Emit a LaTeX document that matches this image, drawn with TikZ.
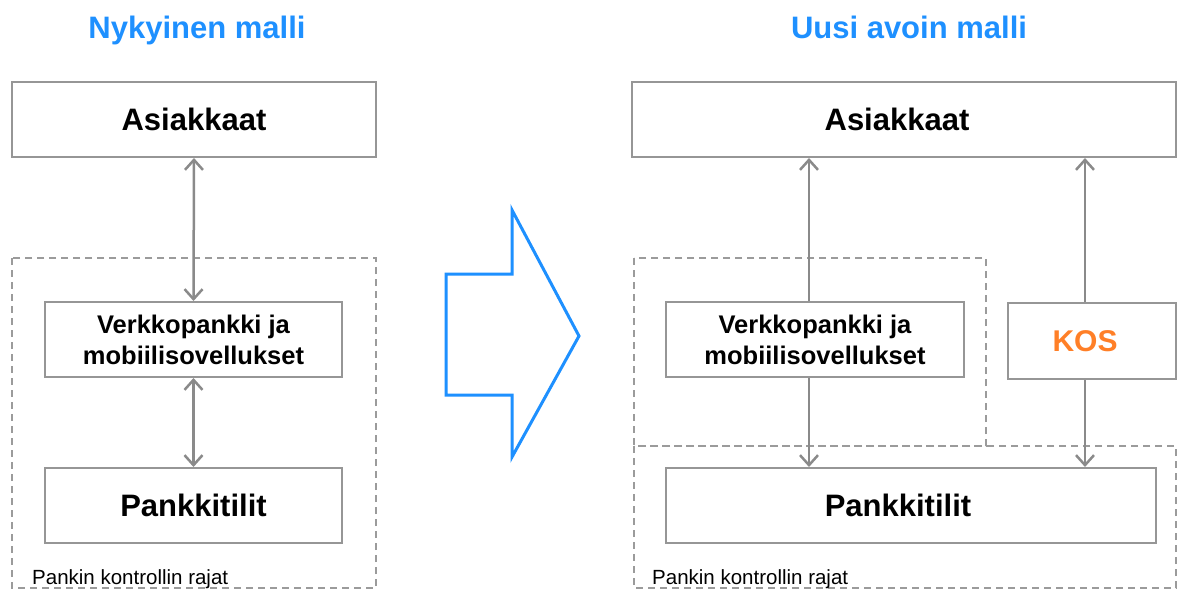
\documentclass[tikz,border=0pt]{standalone}
\usepackage{fontspec}
\setmainfont{Liberation Sans}
\usetikzlibrary{arrows.meta}
\definecolor{titleblue}{RGB}{30,144,255}
\definecolor{kosorange}{RGB}{255,127,39}
\definecolor{framegray}{RGB}{150,150,150}
\definecolor{linkgray}{RGB}{138,138,138}
\definecolor{dashgray}{RGB}{155,155,155}
\begin{document}
\begin{tikzpicture}[x=1pt,y=-1pt,
  box/.style={draw=framegray, line width=2pt, fill=white, inner sep=0pt,
    align=center, text=black, minimum height=75pt},
  bigbox/.style={box, font=\fontsize{31}{31}\selectfont\bfseries},
  appbox/.style={box, font=\fontsize{25.5}{31}\selectfont\bfseries},
  heading/.style={anchor=base, text=titleblue, font=\fontsize{31}{31}\selectfont\bfseries},
  zone/.style={draw=dashgray, line width=2pt, dash pattern=on 7pt off 5pt},
  zonelabel/.style={anchor=base west, inner sep=0pt, font=\fontsize{20.5}{20.5}\selectfont},
  link/.style={draw=linkgray, line width=2.5pt,
    arrows={-Straight Barb[length=10pt,width=18pt]}},
  biglink/.style={link, arrows={Straight Barb[length=10pt,width=18pt]-Straight Barb[length=10pt,width=18pt]}},
  shiftarrow/.style={draw=titleblue, line width=3pt, line join=miter}
]
\useasboundingbox (0,0) rectangle (1178,590);
\fill[white] (0,0) rectangle (1178,590);

% ---- current model (left) ----
\node[heading] (tL) at (197,38) {Nykyinen malli};
\draw[zone] (12,258) rectangle (376,588);
\node[zonelabel] (zL) at (32,584) {Pankin kontrollin rajat};
\node[bigbox, minimum width=364pt] (asL) at (194,119.5) {Asiakkaat};
\node[appbox, minimum width=297pt] (vkL) at (193.5,339.5) {Verkkopankki ja\\mobiilisovellukset};
\node[bigbox, minimum width=297pt] (pkL) at (193.5,505.5) {Pankkitilit};
\draw[biglink] (asL.south) -- (vkL.north);
\draw[biglink] (vkL.south) -- (pkL.north);

% ---- transition arrow ----
\draw[shiftarrow] (446,274) -- (512,274) -- (512,210) -- (579,336)
  -- (512,457) -- (512,395) -- (446,395) -- cycle;

% ---- new open model (right) ----
\node[heading] (tR) at (909,38) {Uusi avoin malli};
\draw[zone] (634,258) rectangle (986,446);
\draw[zone] (634,446) rectangle (1176,588);
\node[zonelabel] (zR) at (652,584) {Pankin kontrollin rajat};
\node[bigbox, minimum width=544pt] (asR) at (904,119.5) {\hspace*{-14pt}Asiakkaat};
\node[appbox, minimum width=298pt] (vkR) at (815,339.5) {Verkkopankki ja\\mobiilisovellukset};
\node[box, minimum width=168pt, minimum height=76pt, text=kosorange,
  font=\fontsize{30}{30}\selectfont\bfseries] (kos) at (1092,341) {\hspace*{-14pt}KOS};
\node[bigbox, minimum width=490pt] (pkR) at (911,505.5) {\hspace*{-26pt}Pankkitilit};

\coordinate (cA) at (809,0);
\coordinate (cK) at (1085,0);
\draw[link] (cA |- vkR.north) -- (cA |- asR.south);
\draw[link] (cA |- vkR.south) -- (cA |- pkR.north);
\draw[link] (cK |- kos.north) -- (cK |- asR.south);
\draw[link] (cK |- kos.south) -- (cK |- pkR.north);
\end{tikzpicture}
\end{document}
